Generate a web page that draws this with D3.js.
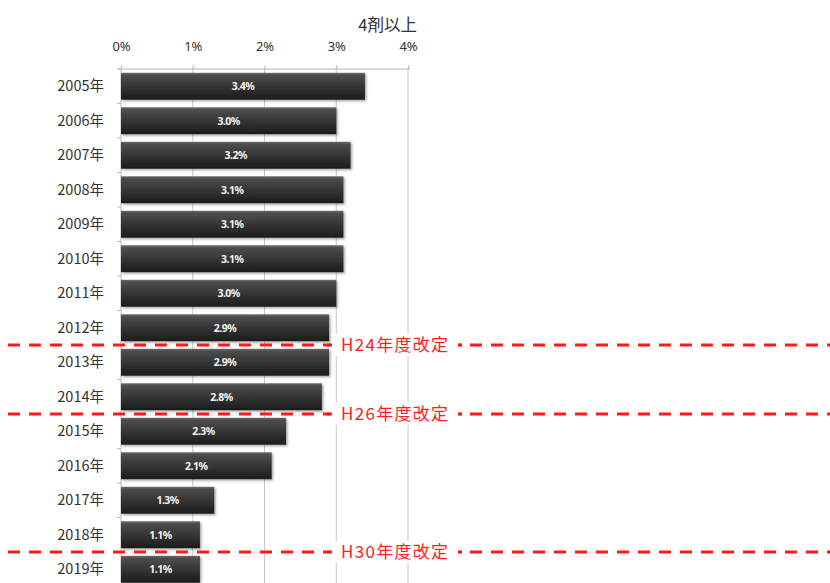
<!DOCTYPE html>
<html>
<head>
<meta charset="utf-8">
<script src="https://cdn.jsdelivr.net/npm/d3@7"></script>
<style>
  html, body { margin: 0; padding: 0; background: #fff; }
  svg { display: block; font-family: "Noto Sans CJK JP", "Noto Sans", sans-serif; }
</style>
</head>
<body>
<svg id="chart" width="830" height="583"></svg>
<script>
// Share of prescriptions with four or more drugs, by year
const years = ["2005年","2006年","2007年","2008年","2009年","2010年","2011年","2012年",
               "2013年","2014年","2015年","2016年","2017年","2018年","2019年"];
const shares = [3.4, 3.0, 3.2, 3.1, 3.1, 3.1, 3.0, 2.9, 2.9, 2.8, 2.3, 2.1, 1.3, 1.1, 1.1];
const xTicks = [0, 1, 2, 3, 4];
const seriesTitle = "4剤以上";

// Fee revisions, each placed between two consecutive years
const revisionLabels = ["H24年度改定", "H26年度改定", "H30年度改定"];
const revisionAfter = ["2012年", "2014年", "2018年"];

(function () {
const svg = d3.select("#chart");
const plotLeft = 121, plotRight = 408, plotTop = 69, band = 34.5;

const x = d3.scaleLinear().domain([0, 4]).range([plotLeft, plotRight]);
const y = d3.scaleBand().domain(years)
  .range([plotTop, plotTop + band * years.length])
  .paddingInner(0.22).paddingOuter(0.11);

// Bar fill: dark gradient with a lighter top edge
const defs = svg.append("defs");
const grad = defs.append("linearGradient").attr("id", "barGrad")
  .attr("x1", 0).attr("y1", 0).attr("x2", 0).attr("y2", 1);
grad.append("stop").attr("offset", "0%").attr("stop-color", "#6a6a6a");
grad.append("stop").attr("offset", "10%").attr("stop-color", "#4c4c4c");
grad.append("stop").attr("offset", "60%").attr("stop-color", "#303030");
grad.append("stop").attr("offset", "100%").attr("stop-color", "#1c1c1c");
const shadow = defs.append("filter").attr("id", "barShadow")
  .attr("x", "-5%").attr("y", "-20%").attr("width", "115%").attr("height", "160%");
shadow.append("feDropShadow").attr("dx", 1.5).attr("dy", 1.5)
  .attr("stdDeviation", 1.2).attr("flood-color", "#000").attr("flood-opacity", 0.35);

// Vertical gridlines
svg.append("g").selectAll("line").data(xTicks.slice(1)).join("line")
  .attr("x1", d => x(d)).attr("x2", d => x(d))
  .attr("y1", plotTop).attr("y2", 583)
  .attr("stroke", "#c8c8c8").attr("stroke-width", 1);

// Top axis
const xAxis = d3.axisTop(x).tickValues(xTicks).tickFormat(d => d + "%").tickSize(4).tickPadding(14);
const gx = svg.append("g").attr("transform", `translate(0,${plotTop})`).call(xAxis);
gx.select(".domain").attr("stroke", "#b8b8b8").attr("d", `M${plotLeft - 3},0H${plotRight + 2}`);
gx.selectAll(".tick line").attr("stroke", "#b8b8b8").attr("y2", -4);
gx.selectAll(".tick text").attr("fill", "#333").attr("font-size", 13)
  .attr("font-family", "'Noto Sans', sans-serif");

// Left axis with category labels and ticks at band boundaries
svg.append("line").attr("x1", plotLeft).attr("x2", plotLeft).attr("y1", plotTop).attr("y2", 583)
  .attr("stroke", "#b8b8b8");
svg.append("g").selectAll("line").data(d3.range(years.length + 1)).join("line")
  .attr("x1", plotLeft - 4).attr("x2", plotLeft)
  .attr("y1", i => plotTop + i * band).attr("y2", i => plotTop + i * band)
  .attr("stroke", "#b8b8b8");
svg.append("g").selectAll("text").data(years).join("text")
  .attr("x", 104).attr("y", d => y(d) + y.bandwidth() / 2)
  .attr("dy", "0.35em").attr("text-anchor", "end")
  .attr("fill", "#333").attr("font-size", 14.5).text(d => d);

// Series title
svg.append("text").attr("x", 417).attr("y", 31).attr("text-anchor", "end")
  .attr("fill", "#333").attr("font-size", 16.5).text(seriesTitle);

// Bars
const rows = years.map((yr, i) => ({ yr, v: shares[i] }));
svg.append("g").selectAll("rect").data(rows).join("rect")
  .attr("x", x(0)).attr("y", d => y(d.yr))
  .attr("width", d => x(d.v) - x(0)).attr("height", y.bandwidth())
  .attr("fill", "url(#barGrad)").attr("filter", "url(#barShadow)");

// Value labels
svg.append("g").selectAll("text").data(rows).join("text")
  .attr("x", d => (x(0) + x(d.v)) / 2).attr("y", d => y(d.yr) + y.bandwidth() / 2)
  .attr("dy", "0.36em").attr("text-anchor", "middle")
  .attr("fill", "#f2f2f2").attr("font-size", 10.5).attr("font-weight", "bold")
  .attr("letter-spacing", "-0.5px")
  .attr("font-family", "'Noto Sans', sans-serif")
  .text(d => d.v.toFixed(1) + "%");

// Revision markers: dashed red lines between years, with a label
const revisions = revisionLabels.map((label, i) => {
  const idx = years.indexOf(revisionAfter[i]);
  return { label, yPos: (y(years[idx]) + y.bandwidth() + y(years[idx + 1])) / 2 };
});
const rev = svg.append("g").selectAll("g").data(revisions).join("g");
rev.append("line")
  .attr("x1", 8).attr("x2", 830)
  .attr("y1", d => d.yPos).attr("y2", d => d.yPos)
  .attr("stroke", "#ff1a1a").attr("stroke-width", 3)
  .attr("stroke-dasharray", "12 9");
rev.append("rect")
  .attr("x", 332).attr("y", d => d.yPos - 11)
  .attr("width", 126).attr("height", 22).attr("fill", "#fff");
rev.append("line")
  .attr("x1", 327).attr("x2", 330)
  .attr("y1", d => d.yPos).attr("y2", d => d.yPos)
  .attr("stroke", "#ff1a1a").attr("stroke-width", 3);
rev.append("line")
  .attr("x1", 459).attr("x2", 462)
  .attr("y1", d => d.yPos).attr("y2", d => d.yPos)
  .attr("stroke", "#ff1a1a").attr("stroke-width", 3);
rev.append("text")
  .attr("x", 341).attr("y", d => d.yPos).attr("dy", "0.36em")
  .attr("fill", "#ff2020").attr("font-size", 17).attr("letter-spacing", "1.3px")
  .text(d => d.label);
})();
</script>
</body>
</html>
